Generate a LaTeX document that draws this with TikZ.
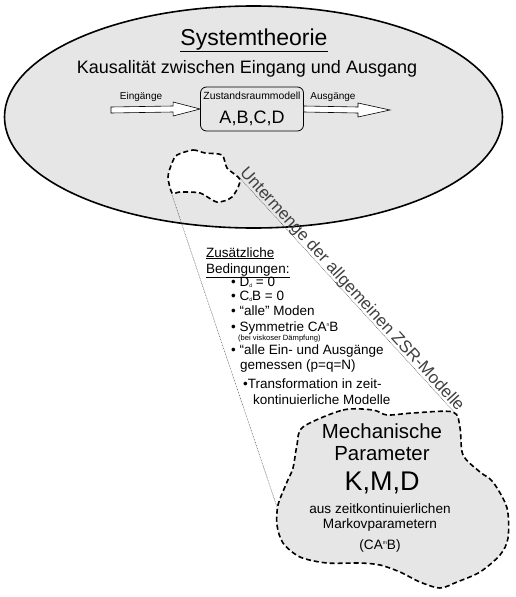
\documentclass[tikz,border=0pt]{standalone}
\usepackage{fontspec}
\setmainfont{Liberation Sans}
\usetikzlibrary{calc}
\newcommand{\fsz}[1]{\fontsize{#1}{#1}\selectfont}
\newcommand{\tinysub}[1]{\raisebox{-1.2pt}{\fontsize{5}{5}\selectfont #1}}
\newcommand{\tinysup}[1]{\raisebox{4.8pt}{\fontsize{5}{5}\selectfont #1}}
\definecolor{setfill}{RGB}{230, 230, 230}

\begin{document}
\begin{tikzpicture}[x=1pt, y=-1pt,
    txt/.style={inner sep=0pt, anchor=base},
    lft/.style={inner sep=0pt, anchor=base west, font=\fsz{13.5}},
    blob/.style={line width=1.6pt, dash pattern=on 5pt off 3pt},
    guide/.style={line width=0.4pt, dash pattern=on 0.8pt off 0.8pt, black!75},
    zsrbox/.style={draw, rounded corners=6pt, line width=0.8pt, minimum width=103pt, minimum height=44pt},
    flow/.style={draw, line width=0.6pt, fill=white}
]
    \useasboundingbox (0,0) rectangle (516,597);

    % Systemtheorie
    \draw[line width=1.6pt, fill=setfill] (253.5,117) ellipse [x radius=249, y radius=111];
    \node[txt, font=\fsz{23}] (title) at (254,45) {\underline{Systemtheorie}};
    \node[txt, font=\fsz{18}] (kaus) at (247,73) {Kausalität zwischen Eingang und Ausgang};

    % Zustandsraummodell
    \node[zsrbox] (zsr) at (252,109) {};
    \node[txt, font=\fsz{10.4}] at (252,99) {Zustandsraummodell};
    \node[txt, font=\fsz{18}] at (252,123) {A,B,C,D};

    \coordinate (ein) at (111,110);
    \coordinate (aus) at (390,110);
    \draw[flow] ($(ein)+(0,-3)$) -- ($(zsr.west)+(-27,-3)$) -- ++(0,-4) -- (zsr.west)
        -- ++(-27,7) -- ++(0,-4) -- ($(ein)+(0,3)$) -- cycle;
    \draw[flow] ($(zsr.east)+(0,-3)$) -- ($(aus)+(-32,-3)$) -- ++(0,-4) -- (aus)
        -- ++(-32,7) -- ++(0,-4) -- ($(zsr.east)+(0,3)$) -- cycle;
    \node[txt, font=\fsz{10}] at (141,99) {Eingänge};
    \node[txt, font=\fsz{10}] at (333,99) {Ausgänge};

    % Untermenge
    \draw[blob, fill=white] plot[smooth cycle, tension=0.45] coordinates {
        (177,155) (193,150) (205,153) (222,155) (227,168) (240,180) (232,197)
        (217,202) (200,193) (180,192) (172,193) (168,177) (172,163)};
    \coordinate (sub1) at (172,195);
    \coordinate (sub2) at (238,176);
    \coordinate (mech1) at (277,507);
    \coordinate (mech2) at (455,413);
    \draw[guide] (sub1) -- (mech1);
    \draw[guide] (sub2) -- node[sloped, above=-1pt, inner sep=0pt, font=\fsz{17}] {Untermenge der allgemeinen ZSR-Modelle} (mech2);

    % Zusaetzliche Bedingungen
    \node[lft] at (206,257) {\underline{Zusätzliche}};
    \node[lft] at (206,273) {\underline{Bedingungen:}};
    \node[lft] at (231,286) {• D\tinysub{d} = 0};
    \node[lft] at (231,300) {• C\tinysub{d}B = 0};
    \node[lft] at (231,315) {• “alle” Moden};
    \node[lft] at (231,331) {• Symmetrie CA\tinysup{n}B};
    \node[lft, font=\fsz{7.6}] at (238,340) {(bei viskoser Dämpfung)};
    \node[lft] at (231,354) {• “alle Ein- und Ausgänge};
    \node[lft] at (240,369) {gemessen (p=q=N)};
    \node[lft] at (243,388) {•Transformation in zeit-};
    \node[lft] at (253,404) {kontinuierliche Modelle};

    % Mechanische Parameter
    \draw[blob, fill=setfill] plot[smooth cycle, tension=0.5] coordinates {
        (303,427) (343,410) (373,410) (387,415) (413,413) (453,412) (460,428)
        (463,455) (480,472) (493,482) (507,508) (508,538) (500,555) (480,572)
        (457,582) (440,588) (420,582) (400,572) (380,565) (360,563) (327,563)
        (300,557) (283,543) (277,525) (278,505) (287,482) (293,468) (297,445)};
    \node[txt, font=\fsz{20.4}] at (382,438) {Mechanische};
    \node[txt, font=\fsz{20.4}] at (382,460) {Parameter};
    \node[txt, font=\fsz{27}] at (382,490) {K,M,D};
    \node[txt, font=\fsz{13.6}] at (380,513) {aus zeitkontinuierlichen};
    \node[txt, font=\fsz{13.6}] at (380,528) {Markovparametern};
    \node[txt, font=\fsz{13.6}] at (380,549) {(CA\tinysup{m}B)};
\end{tikzpicture}
\end{document}
